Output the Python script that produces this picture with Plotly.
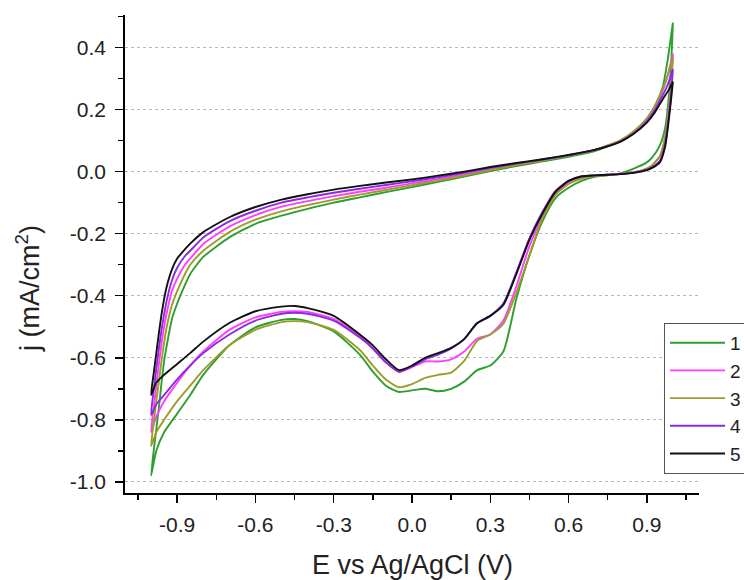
import plotly.graph_objects as go

# Potential grids (V vs Ag/AgCl)
E_anodic = [-1.0, -0.99, -0.98, -0.97, -0.96, -0.95, -0.94, -0.92, -0.9, -0.87, -0.85, -0.8,
            -0.7, -0.6, -0.5, -0.4, -0.3, -0.2, -0.1, 0.0, 0.1, 0.2, 0.3, 0.4, 0.5, 0.6, 0.7,
            0.8, 0.85, 0.9, 0.93, 0.96, 0.98, 0.99, 1.0]
E_cathodic = [1.0, 0.99, 0.97, 0.95, 0.92, 0.9, 0.85, 0.8, 0.75, 0.7, 0.65, 0.6, 0.55, 0.5,
              0.45, 0.4, 0.35, 0.3, 0.25, 0.2, 0.15, 0.1, 0.05, 0.0, -0.05, -0.1, -0.15, -0.2,
              -0.3, -0.4, -0.45, -0.5, -0.6, -0.7, -0.8, -0.85, -0.9, -0.95, -0.98, -1.0]

# Current density (mA/cm2), anodic sweep per cycle
j1_anodic = [-0.98, -0.9, -0.83, -0.76, -0.68, -0.61, -0.56, -0.475, -0.425, -0.365, -0.33,
             -0.275, -0.212, -0.168, -0.142, -0.12, -0.1, -0.083, -0.066, -0.05, -0.033,
             -0.016, 0.002, 0.018, 0.033, 0.048, 0.066, 0.1, 0.128, 0.17, 0.21, 0.27, 0.36,
             0.42, 0.48]
j2_anodic = [-0.84, -0.76, -0.69, -0.62, -0.555, -0.5, -0.455, -0.385, -0.345, -0.3, -0.28,
             -0.233, -0.177, -0.14, -0.113, -0.095, -0.079, -0.065, -0.052, -0.038, -0.024,
             -0.009, 0.008, 0.023, 0.037, 0.052, 0.07, 0.1, 0.127, 0.168, 0.205, 0.26, 0.31,
             0.345, 0.38]
j3_anodic = [-0.885, -0.81, -0.74, -0.675, -0.61, -0.55, -0.5, -0.43, -0.385, -0.33, -0.3,
             -0.255, -0.195, -0.155, -0.128, -0.108, -0.09, -0.074, -0.059, -0.044, -0.029,
             -0.013, 0.005, 0.021, 0.036, 0.051, 0.07, 0.102, 0.13, 0.172, 0.21, 0.265, 0.31,
             0.34, 0.37]
j4_anodic = [-0.785, -0.705, -0.635, -0.57, -0.51, -0.46, -0.415, -0.35, -0.31, -0.272, -0.255,
             -0.212, -0.16, -0.126, -0.1, -0.083, -0.068, -0.055, -0.043, -0.031, -0.018,
             -0.004, 0.012, 0.026, 0.039, 0.053, 0.07, 0.098, 0.124, 0.162, 0.197, 0.245, 0.28,
             0.305, 0.33]
j5_anodic = [-0.72, -0.65, -0.585, -0.52, -0.46, -0.41, -0.37, -0.315, -0.28, -0.25, -0.232,
             -0.195, -0.147, -0.114, -0.09, -0.073, -0.058, -0.046, -0.035, -0.025, -0.013, 0.0,
             0.015, 0.028, 0.04, 0.054, 0.07, 0.097, 0.122, 0.158, 0.19, 0.232, 0.258, 0.273,
             0.29]

# Cathodic sweep per cycle
j1_cathodic = [0.48, 0.3, 0.14, 0.085, 0.045, 0.03, 0.01, -0.005, -0.012, -0.017, -0.03,
               -0.052, -0.085, -0.16, -0.27, -0.41, -0.58, -0.625, -0.64, -0.677, -0.7, -0.708,
               -0.7, -0.705, -0.71, -0.69, -0.645, -0.59, -0.515, -0.482, -0.475, -0.478,
               -0.502, -0.56, -0.655, -0.72, -0.78, -0.84, -0.9, -0.98]
j2_cathodic = [0.38, 0.25, 0.11, 0.05, 0.02, 0.01, -0.002, -0.007, -0.01, -0.013, -0.02,
               -0.035, -0.07, -0.145, -0.24, -0.37, -0.48, -0.525, -0.538, -0.58, -0.605,
               -0.612, -0.612, -0.63, -0.645, -0.615, -0.57, -0.53, -0.475, -0.452, -0.45,
               -0.452, -0.47, -0.51, -0.58, -0.625, -0.68, -0.74, -0.79, -0.84]
j3_cathodic = [0.37, 0.24, 0.11, 0.05, 0.02, 0.01, -0.002, -0.007, -0.011, -0.015, -0.022,
               -0.04, -0.075, -0.15, -0.27, -0.39, -0.49, -0.525, -0.545, -0.61, -0.648,
               -0.655, -0.665, -0.685, -0.695, -0.67, -0.625, -0.575, -0.51, -0.485, -0.482,
               -0.485, -0.51, -0.56, -0.64, -0.69, -0.74, -0.8, -0.84, -0.885]
j4_cathodic = [0.33, 0.22, 0.09, 0.035, 0.014, 0.006, -0.003, -0.008, -0.01, -0.012, -0.016,
               -0.03, -0.062, -0.13, -0.215, -0.325, -0.425, -0.465, -0.488, -0.54, -0.57,
               -0.59, -0.605, -0.628, -0.645, -0.615, -0.57, -0.535, -0.48, -0.458, -0.455,
               -0.458, -0.48, -0.525, -0.585, -0.625, -0.67, -0.72, -0.75, -0.785]
j5_cathodic = [0.29, 0.21, 0.08, 0.03, 0.012, 0.005, -0.004, -0.008, -0.01, -0.012, -0.015,
               -0.03, -0.065, -0.135, -0.22, -0.33, -0.43, -0.465, -0.488, -0.54, -0.568,
               -0.585, -0.6, -0.625, -0.64, -0.605, -0.56, -0.525, -0.465, -0.44, -0.433,
               -0.435, -0.45, -0.488, -0.548, -0.585, -0.62, -0.655, -0.68, -0.72]

cycle_names = ["1", "2", "3", "4", "5"]
cycle_colors = ["#2e9e2e", "#ff3dff", "#9c9c2a", "#8a2be2", "#111111"]
anodic = [j1_anodic, j2_anodic, j3_anodic, j4_anodic, j5_anodic]
cathodic = [j1_cathodic, j2_cathodic, j3_cathodic, j4_cathodic, j5_cathodic]

x_ticks = [-0.9, -0.6, -0.3, 0.0, 0.3, 0.6, 0.9]
x_minor = [-1.05, -0.75, -0.45, -0.15, 0.15, 0.45, 0.75, 1.05]
y_ticks = [-1.0, -0.8, -0.6, -0.4, -0.2, 0.0, 0.2, 0.4]
y_minor = [-0.9, -0.7, -0.5, -0.3, -0.1, 0.1, 0.3, 0.5]

FONT = "Liberation Sans, Arial, sans-serif"
TXT = "#222222"

fig = go.Figure()
for name, col, ja, jc in zip(cycle_names, cycle_colors, anodic, cathodic):
    fig.add_trace(go.Scatter(
        x=E_anodic + E_cathodic, y=ja + jc, mode="lines", name=name,
        line=dict(color=col, width=1.9, shape="spline", smoothing=0.6),
    ))

fig.update_layout(
    width=744, height=580,
    margin=dict(l=125, r=45, t=15, b=87, autoexpand=False),
    paper_bgcolor="white", plot_bgcolor="white",
    font=dict(family=FONT, size=21, color=TXT),
    showlegend=True,
    legend=dict(
        x=0.939, y=0.356, xanchor="left", yanchor="top",
        bgcolor="white", bordercolor="#555555", borderwidth=1,
        font=dict(family=FONT, size=19, color=TXT),
        tracegroupgap=0, itemwidth=55,
    ),
    xaxis=dict(
        range=[-1.1, 1.1], tickmode="array", tickvals=x_ticks,
        ticktext=["-0.9", "-0.6", "-0.3", "0.0", "0.3", "0.6", "0.9"],
        ticks="outside", ticklen=8, tickwidth=1.5, tickcolor="black",
        showline=True, linecolor="black", linewidth=1.8, mirror=False,
        showgrid=False, zeroline=False, ticklabelstandoff=4,
        minor=dict(tickmode="array", tickvals=x_minor,
                   ticks="outside", ticklen=5, tickwidth=1.5, tickcolor="black", showgrid=False),
        tickfont=dict(family=FONT, size=21, color=TXT),
    ),
    yaxis=dict(
        range=[-1.036, 0.505], tickmode="array", tickvals=y_ticks,
        ticktext=["-1.0", "-0.8", "-0.6", "-0.4", "-0.2", "0.0", "0.2", "0.4"],
        ticks="outside", ticklen=8, tickwidth=1.5, tickcolor="black",
        showline=True, linecolor="black", linewidth=1.8, mirror=False,
        showgrid=True, gridcolor="#b8b8b8", griddash="dot", gridwidth=1,
        zeroline=False, ticklabelstandoff=5,
        minor=dict(tickmode="array", tickvals=y_minor,
                   ticks="outside", ticklen=5, tickwidth=1.5, tickcolor="black", showgrid=False),
        tickfont=dict(family=FONT, size=21, color=TXT),
    ),
    annotations=[
        dict(text="E vs Ag/AgCl (V)", xref="paper", yref="paper", x=0.5, y=-0.15,
             xanchor="center", yanchor="middle", showarrow=False,
             font=dict(family=FONT, size=27, color=TXT)),
        dict(text="j (mA/cm<sup>2</sup>)", xref="paper", yref="paper", x=-0.169, y=0.429,
             xanchor="center", yanchor="middle", textangle=-90, showarrow=False,
             font=dict(family=FONT, size=27, color=TXT)),
    ],
)

fig.write_html(
    "out.html",
    config={"displayModeBar": False, "staticPlot": True},
    post_script="document.body.style.margin='0px';document.body.style.overflow='hidden';",
)
